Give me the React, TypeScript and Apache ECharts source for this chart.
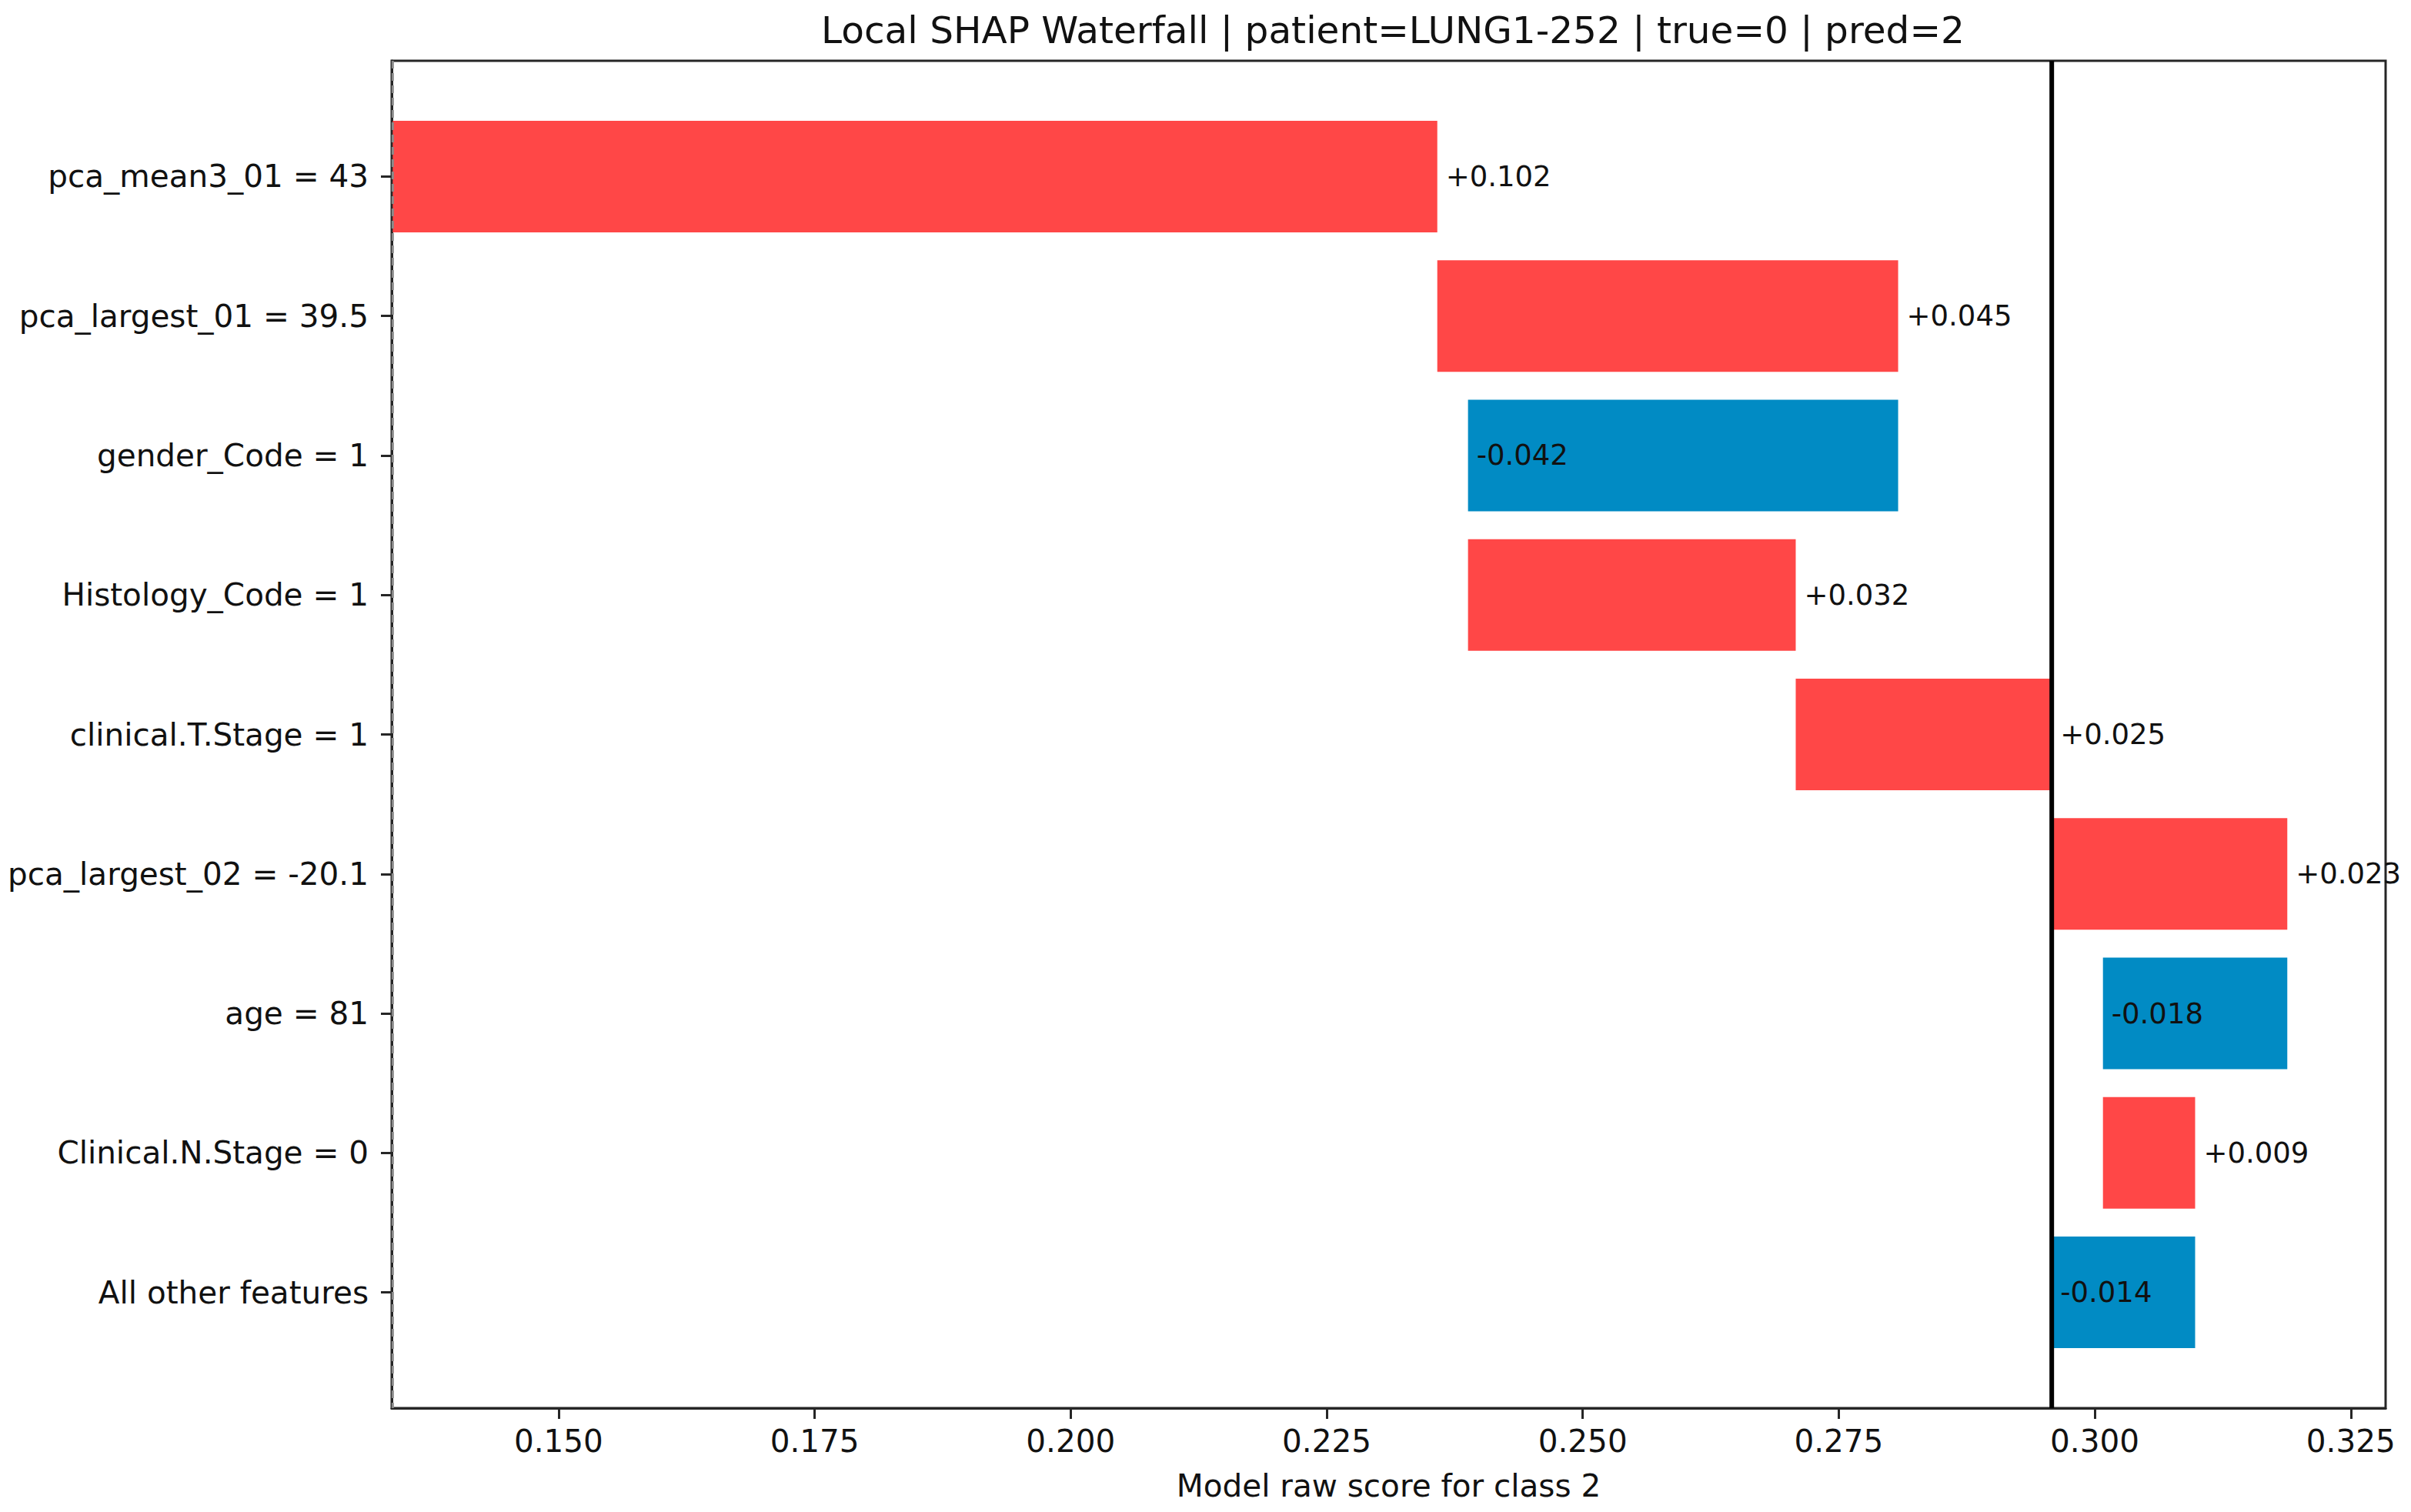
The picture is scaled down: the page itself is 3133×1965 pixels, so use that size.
import React, { useEffect, useRef } from "react";
import * as echarts from "echarts";

// Feature rows, top to bottom, and their SHAP contributions
const features = [
  "pca_mean3_01 = 43",
  "pca_largest_01 = 39.5",
  "gender_Code = 1",
  "Histology_Code = 1",
  "clinical.T.Stage = 1",
  "pca_largest_02 = -20.1",
  "age = 81",
  "Clinical.N.Stage = 0",
  "All other features",
];
const contributions = [0.102, 0.045, -0.042, 0.032, 0.025, 0.023, -0.018, 0.009, -0.014];
const baseValue = 0.1338;
const xTicks = [0.15, 0.175, 0.2, 0.225, 0.25, 0.275, 0.3, 0.325];
const titleText = "Local SHAP Waterfall | patient=LUNG1-252 | true=0 | pred=2";
const xAxisName = "Model raw score for class 2";

const FONT = "DejaVu Sans";
const RED = "#ff4747";
const BLUE = "#018bc4";
const INK = "#111111";
const FRAME = "#262626";

const X_MIN = 0.1337;
const X_MAX = 0.3284;
const Y_MIN = -0.83;
const Y_MAX = 8.83;

export default function App() {
  const ref = useRef<HTMLDivElement>(null);

  useEffect(() => {
    if (!ref.current) return;
    const chart = echarts.init(ref.current, undefined, { renderer: "svg" });

    // Running waterfall: each bar starts where the previous one ended
    const bars: number[][] = [];
    let run = baseValue;
    contributions.forEach((c, i) => {
      bars.push([run, run + c, i, c]);
      run += c;
    });
    const finalValue = run;
    const rowIdx = features.map((_, i) => i);

    chart.setOption({
      animation: false,
      backgroundColor: "#ffffff",
      title: {
        text: titleText,
        left: 1805,
        top: 9,
        textAlign: "center",
        textStyle: { fontFamily: FONT, fontSize: 48.5, fontWeight: "normal", color: INK },
      },
      grid: {
        left: 509,
        right: 33,
        top: 79,
        bottom: 135,
        show: true,
        borderColor: FRAME,
        borderWidth: 3,
        backgroundColor: "transparent",
      },
      xAxis: {
        type: "value",
        min: X_MIN,
        max: X_MAX,
        name: xAxisName,
        nameLocation: "middle",
        nameGap: 80,
        nameTextStyle: { fontFamily: FONT, fontSize: 40.5, color: INK },
        axisLine: { show: true, onZero: false, lineStyle: { color: FRAME, width: 3 } },
        axisTick: {
          show: true,
          customValues: xTicks,
          length: 14,
          lineStyle: { color: FRAME, width: 3 },
        },
        axisLabel: {
          customValues: xTicks,
          margin: 22,
          fontFamily: FONT,
          fontSize: 40.5,
          color: INK,
          formatter: (v: number) => v.toFixed(3),
        },
        splitLine: { show: false },
      },
      yAxis: {
        type: "value",
        inverse: true,
        min: Y_MIN,
        max: Y_MAX,
        axisLine: { show: true, onZero: false, lineStyle: { color: FRAME, width: 3 } },
        axisTick: {
          show: true,
          customValues: rowIdx,
          length: 14,
          lineStyle: { color: FRAME, width: 3 },
        },
        axisLabel: {
          customValues: rowIdx,
          margin: 30,
          fontFamily: FONT,
          fontSize: 40.5,
          color: INK,
          formatter: (v: number) => features[Math.round(v)] ?? "",
        },
        splitLine: { show: false },
      },
      series: [
        {
          type: "custom",
          clip: false,
          data: bars,
          encode: { x: [0, 1], y: 2 },
          renderItem: (params: any, api: any) => {
            const s = api.value(0);
            const e = api.value(1);
            const i = api.value(2);
            const c = api.value(3);
            const pL = api.coord([Math.min(s, e), i]);
            const pR = api.coord([Math.max(s, e), i]);
            const h = Math.abs(api.size([0, 0.8])[1]);
            const label = (c > 0 ? "+" : "") + c.toFixed(3);
            const positive = c > 0;
            return {
              type: "group",
              children: [
                {
                  type: "rect",
                  shape: { x: pL[0], y: pL[1] - h / 2, width: pR[0] - pL[0], height: h },
                  style: { fill: positive ? RED : BLUE },
                },
                {
                  type: "text",
                  z2: 10,
                  style: {
                    text: label,
                    x: positive ? pR[0] + 11 : pL[0] + 11,
                    y: pL[1],
                    align: "left",
                    verticalAlign: "middle",
                    fontFamily: FONT,
                    fontSize: 37,
                    fill: INK,
                  },
                },
              ],
            };
          },
        },
        {
          // expected (base) value
          type: "line",
          symbol: "none",
          silent: true,
          data: [
            [baseValue, Y_MIN],
            [baseValue, Y_MAX],
          ],
          lineStyle: { color: "#8a8a8a", width: 3, type: [10, 6] },
          z: 3,
        },
        {
          // model output f(x)
          type: "line",
          symbol: "none",
          silent: true,
          data: [
            [finalValue, Y_MIN],
            [finalValue, Y_MAX],
          ],
          lineStyle: { color: "#000000", width: 6 },
          z: 4,
        },
      ],
    });

    return () => chart.dispose();
  }, []);

  return (
    <div
      ref={ref}
      style={{ position: "fixed", left: 0, top: 0, width: 3133, height: 1965, background: "#fff" }}
    />
  );
}
